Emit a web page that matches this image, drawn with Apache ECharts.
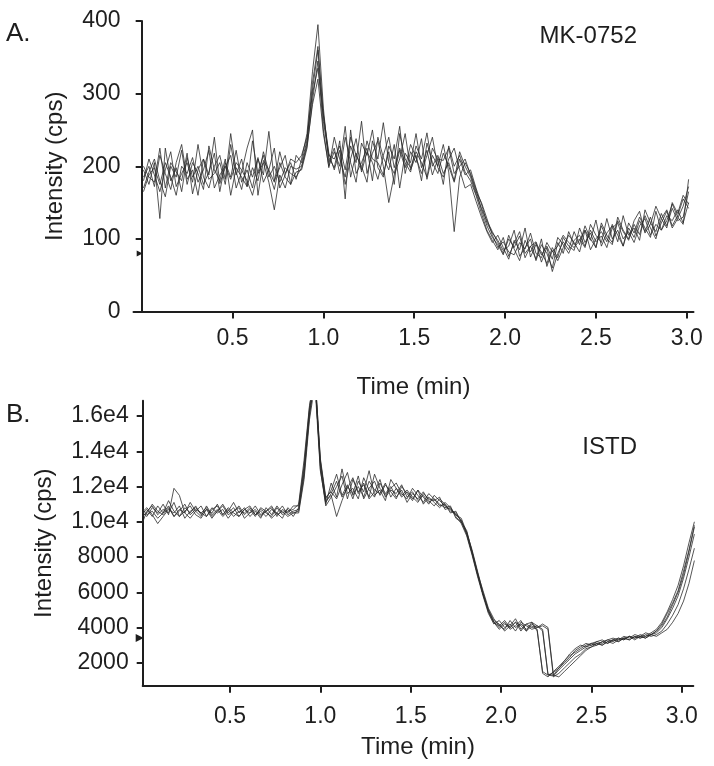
<!DOCTYPE html>
<html>
<head>
<meta charset="utf-8">
<script src="https://cdn.jsdelivr.net/npm/echarts@6/dist/echarts.min.js"></script>
<style>
html,body{margin:0;padding:0;background:#fff;}
#c{width:714px;height:766px;}
</style>
</head>
<body>
<div id="c"></div>
<script>
// Sampling times (min)
const times = [
0.01,0.04,0.07,0.10,0.13,0.16,0.19,0.22,0.25,0.28,
0.31,0.34,0.37,0.40,0.43,0.46,0.49,0.52,0.55,0.58,
0.61,0.64,0.67,0.70,0.73,0.76,0.79,0.82,0.85,0.88,
0.91,0.94,0.97,1.00,1.03,1.06,1.09,1.12,1.15,1.18,
1.21,1.24,1.27,1.30,1.33,1.36,1.39,1.42,1.45,1.48,
1.51,1.54,1.57,1.60,1.63,1.66,1.69,1.72,1.75,1.78,
1.81,1.84,1.87,1.90,1.93,1.96,1.99,2.02,2.05,2.08,
2.11,2.14,2.17,2.20,2.23,2.26,2.29,2.32,2.35,2.38,
2.41,2.44,2.47,2.50,2.53,2.56,2.59,2.62,2.65,2.68,
2.71,2.74,2.77,2.80,2.83,2.86,2.89,2.92,2.95,2.98,
3.01,3.04,3.07];

// Panel A: MK-0752 intensity (cps), six injections
const mk1 = [185,200,172,215,190,168,205,230,182,195,160,210,188,240,176,198,215,170,192,225,250,160,208,195,178,220,190,205,182,
 210,245,330,395,280,205,
 225,190,240,205,178,232,215,250,198,185,228,210,255,190,220,205,238,182,215,200,230,192,110,185,205,
 190,168,140,118,102,
 92,78,105,86,70,98,82,95,68,88,55,80,
 96,85,110,92,118,100,88,122,105,95,130,112,100,125,138,108,120,145,128,115,150,135,160,148];
const mk2 = [170,192,210,180,158,200,185,222,175,205,190,168,228,195,180,210,160,198,185,172,235,190,205,178,140,188,170,200,196,
 200,232,305,360,262,212,
 198,235,155,250,190,205,225,180,240,212,195,230,170,218,205,245,198,222,188,210,175,228,200,215,192,
 180,160,135,112,98,
 85,102,76,94,110,80,90,72,100,62,84,70,
 88,105,95,82,112,98,126,90,108,118,96,132,105,115,98,140,122,110,135,118,142,125,130,165];
const mk3 = [195,175,205,128,225,180,198,165,212,185,200,175,192,218,165,205,185,222,178,195,170,210,188,248,180,198,215,175,192,
 195,225,290,345,250,198,
 240,210,185,228,205,262,190,218,235,200,150,188,210,245,195,215,180,232,205,190,218,200,178,210,188,
 195,170,148,122,108,
 98,84,90,112,76,88,100,70,92,80,60,95,
 80,110,92,100,88,120,105,95,128,100,112,90,122,108,130,115,102,138,112,125,148,130,120,182];
const mk4 = [180,210,188,165,195,220,172,190,205,178,230,185,170,200,215,182,245,192,168,205,185,212,178,195,225,170,188,210,205,
 215,240,300,335,270,215,
 210,228,195,240,215,200,178,235,210,260,205,190,222,198,230,212,190,215,240,198,185,210,225,195,170,
 175,152,130,110,95,
 105,88,72,98,85,115,75,92,82,66,88,74,
 102,90,84,115,95,108,88,118,100,92,125,110,98,120,106,132,115,100,128,140,118,132,155,142];
const mk5 = [200,185,178,225,170,205,192,180,218,162,195,210,182,190,205,175,230,188,210,172,198,180,220,192,168,205,185,175,215,
 205,236,315,365,272,218,
 195,222,175,210,238,192,220,205,182,215,240,198,225,205,192,228,210,246,200,215,190,205,180,220,200,
 185,162,142,125,110,
 95,80,100,88,104,74,90,96,78,90,72,102,
 92,80,98,105,90,112,96,104,88,115,122,100,110,95,118,128,105,120,112,132,125,140,122,150];
const mk6 = [165,188,198,175,205,185,160,200,190,212,178,195,222,170,188,200,182,205,195,180,160,192,215,185,200,178,198,190,185,
 198,228,285,320,245,200,
 220,200,255,185,218,195,235,210,205,188,220,175,245,210,198,220,205,185,225,210,208,225,190,200,210,
 188,165,150,128,105,
 88,96,82,78,95,86,108,80,74,95,82,90,
 105,95,88,98,112,85,100,110,96,120,105,90,115,102,125,110,130,104,122,138,115,128,145,172];

// Panel B: ISTD intensity (cps), six injections
const is1 = [10400,10700,10300,10900,10500,11200,10600,10300,10800,10500,10900,10400,10700,10200,10600,11000,10500,10800,10300,10700,10500,10900,10400,10600,10800,10300,10700,10500,10900,
 10900,13200,16500,18500,13500,11200,
 11500,10300,11200,12000,11600,12600,11300,11900,12300,11500,12100,11700,11300,12000,11600,11200,11800,11400,11000,11500,11200,
 10900,10700,10400,10100,9300,8200,7000,5900,4900,4300,
 4000,4300,3900,4100,4400,3800,4100,
 3900,1400,1200,1500,1800,2100,2400,
 2600,2800,3000,3100,3000,3200,3300,3200,3400,3300,3500,3400,3600,3500,3700,3900,4300,4900,5600,6400,7500,8800,10000];
const is2 = [10600,10300,10800,10500,11000,10400,11900,11500,10500,10200,10600,10900,10300,10800,10500,10700,10200,10600,10900,10400,10700,10300,10800,10600,10200,10500,10900,10400,10600,
 10700,12800,16000,18200,13200,11000,
 12200,11400,13000,11600,11900,11300,12500,11800,11400,12200,11600,12000,11400,11800,11100,11600,11300,11700,11200,10900,11300,
 11000,10600,10500,10000,9400,8400,7200,6000,5000,4400,
 4200,3800,4100,4500,3900,4200,4000,
 4100,3800,1300,1250,1600,1900,2200,
 2500,2700,2900,3000,3100,3000,3200,3300,3200,3400,3300,3500,3400,3500,3600,3700,4000,4500,5100,5800,6800,8000,9300];
const is3 = [9800,10600,10900,10400,10700,10500,11100,10300,10600,10900,10400,10200,10700,10500,11000,10400,10800,10500,10300,10700,10900,10400,10600,10300,10700,10500,10200,10800,10500,
 10600,12600,16200,18000,13400,11300,
 11800,12700,11500,12100,11300,12300,11700,12900,11500,11800,11200,12400,11900,11400,11700,11300,11800,11000,11400,11100,10800,
 11100,10800,10300,9900,9200,8100,6900,5800,4800,4200,
 4400,4000,4200,3800,4300,4100,3900,
 4000,4100,3900,1200,1400,1700,2000,
 2300,2500,2800,2900,3100,3000,3200,3100,3300,3400,3300,3500,3400,3600,3500,3600,3800,4200,4700,5300,6200,7300,8500];
const is4 = [10800,10400,10600,10200,10500,10900,10300,10700,10500,11100,10600,10300,10900,10400,10700,10300,10600,11100,10500,10800,10300,10600,10200,10800,10400,10900,10500,10700,10300,
 10800,13000,16300,18300,13000,10900,
 11400,12000,12600,11300,12400,11700,12100,11400,12700,11900,11500,11900,12200,11600,11300,11900,11500,11100,11600,11300,11000,
 10800,10900,10200,10000,9500,8300,7100,6100,5100,4500,
 4100,4400,4000,4300,3800,4200,4300,
 3800,1500,1300,1450,1700,2000,2300,
 2700,2900,3100,3000,3200,3300,3100,3300,3400,3300,3500,3400,3500,3700,3600,3800,4100,4600,5300,6000,7000,8300,9700];
const is5 = [10500,10800,10400,9900,10300,10700,10500,10900,10200,10600,10800,10500,10300,10700,10900,10400,10700,10300,10600,10500,10800,10400,10700,10500,10300,10800,10400,10600,10700,
 11000,13500,16600,18400,13600,11400,
 11700,11300,12100,12800,11500,12000,11400,12300,11800,11600,12200,11400,11900,11500,11800,11400,11100,11600,11300,11200,11400,
 10700,10800,10400,10200,9400,8300,7100,5900,5000,4300,
 4100,3900,4400,4000,4200,3900,4200,
 4000,4200,4000,1300,1200,1500,1800,
 2100,2400,2700,2900,3000,3200,3100,3300,3200,3400,3500,3300,3500,3400,3600,3500,3700,3900,4300,4800,5500,6500,7800];
const is6 = [10300,10500,11000,10600,10400,10800,10300,10600,11000,10400,10700,10500,10800,10300,10600,10900,10400,10600,10800,10200,10500,10700,10300,10600,10900,10400,10600,10300,10500,
 10500,12400,15800,17800,12900,11100,
 11600,12300,11400,11900,12500,11600,12200,11300,11700,12400,11400,11800,11600,12100,11400,11700,11200,11500,11100,11300,10900,
 11000,10500,10600,10000,9300,8200,7000,5900,4900,4300,
 3900,4200,4000,4300,4100,3800,4300,
 4100,3900,1350,1300,1700,2100,2500,
 2800,3000,2900,3100,3200,3100,3300,3400,3300,3500,3400,3600,3500,3400,3600,3800,4200,4800,5400,6100,7200,8400,9800];

// Tick values
const timeTicks = [0.5, 1.0, 1.5, 2.0, 2.5, 3.0];
const mkTicks = [0, 100, 200, 300, 400];
const istdTicks = [2000, 4000, 6000, 8000, 10000, 12000, 14000, 16000];
const mkSet = [mk1, mk2, mk3, mk4, mk5, mk6];
const isSet = [is1, is2, is3, is4, is5, is6];

const FONT = '"Liberation Sans", Arial, Helvetica, sans-serif';
const INK = '#1e1e1e';

function axisCommon() {
  return {
    axisLine: { lineStyle: { color: INK, width: 2 } },
    splitLine: { show: false },
  };
}

function mkLine(vals, idx, markers) {
  const s = {
    type: 'line', xAxisIndex: idx, yAxisIndex: idx,
    data: vals.map((v, i) => [times[i], v]),
    symbol: 'none', showSymbol: false, animation: false, silent: true,
    lineStyle: { color: '#2b2b2b', width: 0.8 },
    clip: true
  };
  if (markers) s.markPoint = markers;
  return s;
}

const series = [];
mkSet.forEach((v, k) => series.push(mkLine(v, 0, k === 0 ? {
  symbol: 'triangle', symbolSize: 6, symbolRotate: -90, symbolOffset: [-2, 0],
  itemStyle: { color: INK }, label: { show: false },
  data: [{ coord: [0, 80] }]
} : null)));
isSet.forEach((v, k) => series.push(mkLine(v, 1, k === 0 ? {
  symbol: 'triangle', symbolSize: 8, symbolRotate: -90, symbolOffset: [-3, 0],
  itemStyle: { color: INK }, label: { show: false },
  data: [{ coord: [0.017, 3400] }]
} : null)));

const chart = echarts.init(document.getElementById('c'), null, { renderer: 'canvas' });
chart.setOption({
  backgroundColor: '#fff',
  animation: false,
  textStyle: { fontFamily: FONT },
  grid: [
    { left: 133.5, top: 21, width: 560, height: 290.5 },
    { left: 142.7, top: 400.7, width: 550.6, height: 285 }
  ],
  xAxis: [
    Object.assign(axisCommon(), {
      type: 'value', gridIndex: 0, min: -0.045, max: 3.037,
      axisTick: { customValues: timeTicks, length: 7, lineStyle: { color: INK, width: 2 } },
      axisLabel: { customValues: timeTicks, fontSize: 23, color: INK, fontFamily: FONT, margin: 16,
        formatter: v => v.toFixed(1) },
      name: 'Time (min)', nameLocation: 'middle', nameGap: 64,
      nameTextStyle: { fontSize: 24, color: INK, fontFamily: FONT }
    }),
    Object.assign(axisCommon(), {
      type: 'value', gridIndex: 1, min: 0.017, max: 3.064,
      axisTick: { customValues: timeTicks, length: 7, lineStyle: { color: INK, width: 2 } },
      axisLabel: { customValues: timeTicks, fontSize: 23, color: INK, fontFamily: FONT, margin: 19,
        formatter: v => v.toFixed(1) },
      name: 'Time (min)', nameLocation: 'middle', nameGap: 50,
      nameTextStyle: { fontSize: 24, color: INK, fontFamily: FONT }
    })
  ],
  yAxis: [
    Object.assign(axisCommon(), {
      type: 'value', gridIndex: 0, min: 0, max: 400,
      axisLine: { onZero: true, lineStyle: { color: INK, width: 2 } },
      axisTick: { customValues: mkTicks, length: 6, lineStyle: { color: INK, width: 2 } },
      axisLabel: { customValues: mkTicks, fontSize: 23, color: INK, fontFamily: FONT, margin: 13 },
      name: 'Intensity (cps)', nameLocation: 'middle', nameGap: 66,
      nameTextStyle: { fontSize: 24, color: INK, fontFamily: FONT }
    }),
    Object.assign(axisCommon(), {
      type: 'value', gridIndex: 1, min: 700, max: 16870,
      axisTick: { customValues: istdTicks, length: 6, lineStyle: { color: INK, width: 2 } },
      axisLabel: { customValues: istdTicks, fontSize: 23, color: INK, fontFamily: FONT, margin: 14,
        formatter: v => v >= 10000 ? (v / 10000).toFixed(1) + 'e4' : String(v) },
      name: 'Intensity (cps)', nameLocation: 'middle', nameGap: 86,
      nameTextStyle: { fontSize: 24, color: INK, fontFamily: FONT }
    })
  ],
  graphic: [
    { type: 'text', left: 6, top: 21, style: { text: 'A.', fontSize: 26, fill: INK, fontFamily: FONT } },
    { type: 'text', left: 6, top: 402, style: { text: 'B.', fontSize: 26, fill: INK, fontFamily: FONT } },
    { type: 'text', right: 77, top: 24, style: { text: 'MK-0752', fontSize: 24, fill: INK, fontFamily: FONT } },
    { type: 'text', right: 77, top: 435, style: { text: 'ISTD', fontSize: 24, fill: INK, fontFamily: FONT } }
  ],
  series: series
});
</script>
</body>
</html>
